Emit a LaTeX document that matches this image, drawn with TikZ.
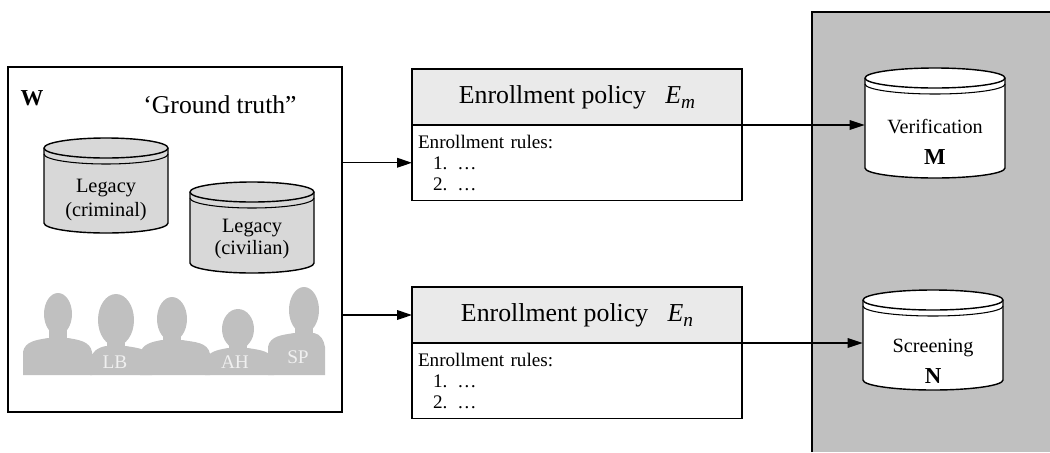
\documentclass[tikz,border=0pt]{standalone}
\usepackage{fontspec}
\setmainfont{Liberation Serif}
\usetikzlibrary{arrows.meta}

\definecolor{panelgray}{RGB}{192,192,192}
\definecolor{legacygray}{RGB}{216,216,216}
\definecolor{headgray}{RGB}{234,234,234}

\tikzstyle{boxline}=[draw=black, line width=1pt, outer sep=0pt]
\tikzstyle{policy}=[boxline, fill=headgray, minimum width=66mm, minimum height=11.2mm, inner sep=0pt, font=\fontsize{14.7}{16}\selectfont]
\tikzstyle{rules}=[boxline, fill=white, minimum width=66mm, minimum height=15.1mm, text width=63.6mm, inner xsep=1.2mm, inner ysep=0pt, align=left, font=\fontsize{10.9}{12}\selectfont]
\tikzstyle{flow}=[line width=0.7pt, -{Triangle[length=8.5pt, width=5.5pt]}]
\tikzstyle{drumtext}=[align=center, inner sep=0pt]
\tikzstyle{person}=[fill=panelgray]
\tikzstyle{initials}=[text=white!94!black, font=\fontsize{11}{11}\selectfont]

% cylinder: centre x, top y, bottom y, half width, fill
\newcommand{\drum}[5]{%
  \filldraw[fill=#5, line width=0.8pt] (#1-#4,-#2-10) -- (#1-#4,-#3+10)
    arc[start angle=180, end angle=360, x radius=#4, y radius=10]
    -- (#1+#4,-#2-10)
    arc[start angle=0, end angle=180, x radius=#4, y radius=10] -- cycle;
  \draw[line width=0.8pt] (#1-#4,-#2-10) arc[start angle=180, end angle=360, x radius=#4, y radius=10];
  \draw[line width=0.6pt] (#1-#4,-#2-16) arc[start angle=180, end angle=360, x radius=#4, y radius=10];
}

\begin{document}
\begin{tikzpicture}[x=0.2mm, y=0.2mm]
	\useasboundingbox (0,0) rectangle (1050,-452);

	% Matching side
	\fill[panelgray] (812,-12) rectangle (1050,-452);
	\draw[line width=0.8pt] (812,-452) -- (812,-12) -- (1050,-12);

	% The world
	\node[boxline, minimum width=66.8mm, minimum height=69mm, anchor=north west] (world) at (8,-67) {};
	\node[font={\fontsize{13}{13}\selectfont\bfseries}] (wlabel) at (32,-98) {W};
	\node[font=\fontsize{14.6}{16}\selectfont] (truth) at (220,-105) {`Ground truth''};

	% Legacy databases
	\drum{106}{138}{233}{62}{legacygray}
	\drum{252}{182}{273}{62}{legacygray}
	\node[drumtext, font=\fontsize{11.6}{14.2}\selectfont] (crim) at (106,-200) {Legacy\\(criminal)};
	\node[drumtext, font=\fontsize{11.6}{13}\selectfont] (civil) at (252,-239) {Legacy\\(civilian)};

	% People
	\fill[person] (23,-356) rectangle (325,-375);
	\foreach \hx/\hy/\rx/\ry/\bl/\br/\bt in {58/314/14/21/23/92/338, 116/320/18/26/90/152/346,
			172/319/15/22/140/210/340, 238/329/16/20/205/274/348, 304/310/15/23/268/325/333}{
		\fill[person] (\hx,-\hy) ellipse[x radius=\rx, y radius=\ry];
		\fill[person] (\hx-9,-\hy) rectangle (\hx+9,-\bt-4);
		\fill[person] (\bl,-375) -- (\bl,-\bt-14) to[out=80,in=190] (\hx-10,-\bt)
			-- (\hx+10,-\bt) to[out=-10,in=100] (\br,-\bt-14) -- (\br,-375) -- cycle;
	}
	\node[initials] (lb) at (115,-362) {LB};
	\node[initials] (ah) at (235,-362) {AH};
	\node[initials] (sp) at (298,-357) {SP};

	% Enrollment policies
	\node[policy, anchor=north west] (polm) at (412,-69)
		{Enrollment policy\hspace{0.75em}\textit{E}\raisebox{-0.5ex}{\fontsize{11}{11}\selectfont\itshape m}};
	\node[rules, anchor=north] (rulm) at (polm.south)
		{Enrollment rules:\\ \hspace*{3mm}1.\hspace{2mm}…\\ \hspace*{3mm}2.\hspace{2mm}…};

	\node[policy, anchor=north west] (poln) at (412,-287)
		{Enrollment policy\hspace{0.75em}\textit{E}\raisebox{-0.5ex}{\fontsize{11}{11}\selectfont\itshape n}};
	\node[rules, anchor=north] (ruln) at (poln.south)
		{Enrollment rules:\\ \hspace*{3mm}1.\hspace{2mm}…\\ \hspace*{3mm}2.\hspace{2mm}…};

	% Matching databases
	\drum{935}{68}{178}{70}{white}
	\drum{933}{290}{390}{70}{white}
	\node[drumtext, minimum width=28mm, font=\fontsize{11.5}{17.5}\selectfont] (verif) at (935,-142)
		{Verification\\ {\fontsize{13}{13}\selectfont\bfseries M}};
	\node[drumtext, minimum width=28mm, font=\fontsize{11.5}{17.5}\selectfont] (screen) at (933,-361)
		{Screening\\ {\fontsize{13}{13}\selectfont\bfseries N}};

	% Arrows
	\draw[flow] (world.east |- rulm.west) -- (rulm.west);
	\draw[flow] (world.east |- poln.west) -- (poln.west);
	\draw[flow] (polm.south east) -- (polm.south east -| verif.west);
	\draw[flow] (poln.south east) -- (poln.south east -| screen.west);
\end{tikzpicture}
\end{document}
